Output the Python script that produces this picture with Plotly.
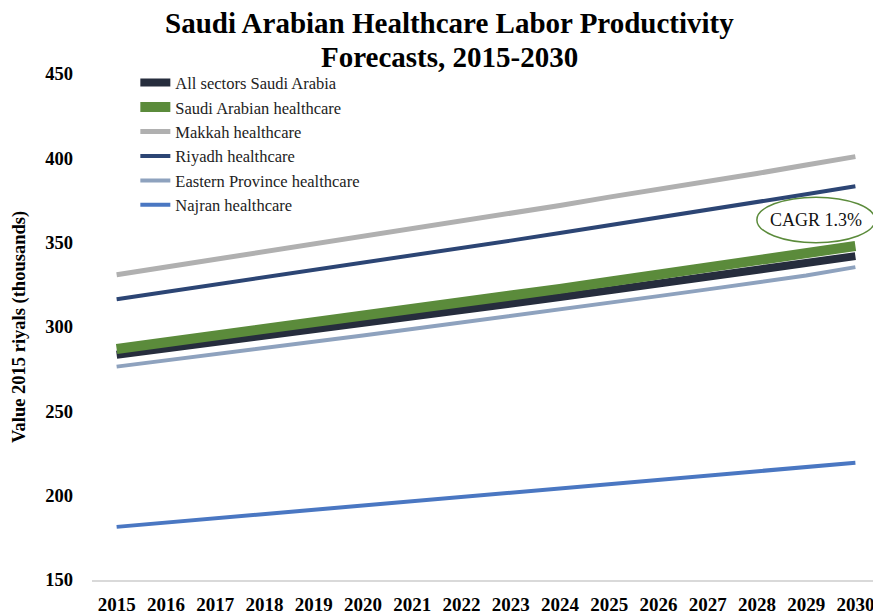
import plotly.graph_objects as go

years = [str(y) for y in range(2015, 2031)]

all_sectors = [283.5, 287.2, 290.9, 294.6, 298.4, 302.2, 306.0, 309.9,
               313.8, 317.7, 321.7, 325.7, 329.7, 333.8, 337.9, 342.0]
saudi_health = [287.0, 290.8, 294.6, 298.5, 302.4, 306.4, 310.4, 314.4,
                318.5, 322.6, 326.8, 331.0, 335.2, 339.5, 343.8, 348.0]
makkah = [331.0, 335.5, 340.0, 344.5, 349.0, 353.5, 358.0, 363.0,
          367.5, 372.0, 377.0, 381.5, 386.5, 391.0, 396.0, 401.0]
riyadh = [316.5, 320.8, 325.0, 329.3, 333.6, 337.9, 342.3, 346.7,
          351.2, 355.7, 360.2, 364.8, 369.4, 374.0, 378.7, 383.5]
eastern = [276.5, 280.1, 283.8, 287.5, 291.2, 295.0, 298.8, 302.6,
           306.5, 310.4, 314.3, 318.3, 322.3, 326.3, 330.5, 335.5]
najran = [181.5, 184.0, 186.5, 189.0, 191.5, 194.0, 196.5, 199.0,
          201.5, 204.0, 206.5, 209.0, 211.5, 214.0, 216.8, 219.5]

FONT = "Liberation Serif, Times New Roman, serif"

# name, values, colour, width (drawing order: thin lines under thick ones)
series = [
    ("Makkah healthcare", makkah, "#B0B0B0", 5),
    ("Riyadh healthcare", riyadh, "#2C4574", 4),
    ("Eastern Province healthcare", eastern, "#8EA2BE", 4),
    ("Najran healthcare", najran, "#4A77C2", 4),
    ("All sectors Saudi Arabia", all_sectors, "#262D3D", 8),
    ("Saudi Arabian healthcare", saudi_health, "#5B8B3B", 10),
]
legend_rank = {
    "All sectors Saudi Arabia": 1,
    "Saudi Arabian healthcare": 2,
    "Makkah healthcare": 3,
    "Riyadh healthcare": 4,
    "Eastern Province healthcare": 5,
    "Najran healthcare": 6,
}

fig = go.Figure()
for name, vals, color, width in series:
    fig.add_trace(go.Scatter(
        x=years, y=vals, mode="lines", name=name,
        line=dict(color=color, width=width),
        legendrank=legend_rank[name],
    ))

# CAGR callout
fig.add_shape(
    type="circle", xref="x", yref="y",
    x0=13.0, x1=15.4, y0=350, y1=377,
    line=dict(color="#5B8B3B", width=1.5),
    fillcolor="white", layer="above",
)
fig.add_annotation(
    x=14.2, y=363.5, xref="x", yref="y", text="CAGR 1.3%",
    showarrow=False, font=dict(family=FONT, size=18, color="#111111"),
)

# title as two single-line annotations so it doesn't push the plot area around
fig.add_annotation(
    text="<b>Saudi Arabian Healthcare Labor Productivity</b>",
    xref="paper", yref="paper", x=0.454, y=1.1,
    xanchor="center", yanchor="middle", showarrow=False,
    font=dict(family=FONT, size=29, color="black"),
)
fig.add_annotation(
    text="<b>Forecasts, 2015-2030</b>",
    xref="paper", yref="paper", x=0.454, y=1.034,
    xanchor="center", yanchor="middle", showarrow=False,
    font=dict(family=FONT, size=29, color="black"),
)

# page body has an 8px margin, so the figure is 8px smaller than the window
fig.update_layout(
    width=873, height=607,
    paper_bgcolor="white", plot_bgcolor="white",
    margin=dict(l=84, r=1, t=66, b=35),
    font=dict(family=FONT, color="black"),
    xaxis=dict(
        type="category", range=[-0.5, 15.5], automargin=False,
        showgrid=False, zeroline=False,
        showline=True, linecolor="#D9D9D9", linewidth=1.5,
        ticks="", ticklabelstandoff=6,
        tickfont=dict(family=FONT, size=19, color="black", weight="bold"),
    ),
    yaxis=dict(
        range=[150, 450], dtick=50, automargin=False,
        showgrid=False, zeroline=False, showline=False,
        ticks="", ticklabelstandoff=18,
        tickfont=dict(family=FONT, size=18.5, color="black", weight="bold"),
        title=dict(text="<b>Value 2015 riyals (thousands)</b>",
                   font=dict(family=FONT, size=18.5, color="black"), standoff=14),
    ),
    legend=dict(
        x=0.055, y=1.017, xanchor="left", yanchor="top",
        bgcolor="rgba(0,0,0,0)", tracegroupgap=0,
        font=dict(family=FONT, size=16.5, color="#222222"),
        itemwidth=30,
    ),
    showlegend=True,
)

fig.write_html("out.html")
